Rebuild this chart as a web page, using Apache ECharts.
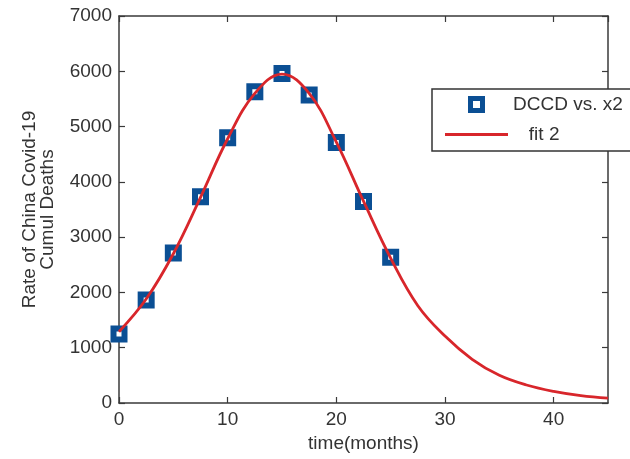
<!DOCTYPE html>
<html>
<head>
<meta charset="utf-8">
<script src="https://cdn.jsdelivr.net/npm/echarts@6/dist/echarts.min.js"></script>
<style>
html,body{margin:0;padding:0;background:#fff;}
#chart{width:630px;height:459px;}
</style>
</head>
<body>
<div id="chart"></div>
<script>
// Observed data points (time in months, rate)
var dataX = [0, 2.5, 5, 7.5, 10, 12.5, 15, 17.5, 20, 22.5, 25];
var dataY = [1250, 1865, 2715, 3730, 4800, 5630, 5960, 5570, 4710, 3645, 2635];

// Fitted curve
var fitX = [0, 2.5, 5, 7.5, 10, 12.5, 15, 17.5, 20, 22.5, 25, 27.5, 30, 32.5, 35, 37.5, 40, 42.5, 45];
var fitY = [1290, 1880, 2700, 3720, 4780, 5600, 5950, 5600, 4720, 3650, 2620, 1760, 1210, 790, 500, 325, 210, 133, 88];

var xTicks = [0, 10, 20, 30, 40];
var yTicks = [0, 1000, 2000, 3000, 4000, 5000, 6000, 7000];

var FONT = 'Liberation Sans';
var FS = 19;
var AX = '#3a3a3a';
var BLUE = '#0b4f94';
var RED = '#d8262b';

var chart = echarts.init(document.getElementById('chart'), null, {renderer: 'canvas'});

function pairs(xs, ys) { return xs.map(function (x, i) { return [x, ys[i]]; }); }

var axisCommon = {
  axisLine: {show: true, onZero: false, lineStyle: {color: AX, width: 1.5}},
  axisTick: {show: true, inside: true, length: 6, lineStyle: {color: AX, width: 1.2}},
  splitLine: {show: false}
};

chart.setOption({
  animation: false,
  backgroundColor: '#fff',
  grid: {left: 119, right: 22, top: 16, bottom: 56},
  legend: {
    orient: 'vertical',
    left: 432,
    top: 89,
    padding: [6, 220, 7, 13],
    itemWidth: 63,
    itemHeight: 12,
    itemGap: 11,
    symbolKeepAspect: true,
    borderColor: '#333',
    borderWidth: 1.5,
    backgroundColor: '#fff',
    textStyle: {fontFamily: FONT, fontSize: FS, color: '#333'},
    formatter: function (name) { return name === 'fit 2' ? '   fit 2' : name; },
    data: [
      {name: 'DCCD vs. x2', icon: 'path://M0,0h10v10h-10z', itemStyle: {color: '#ffffff', borderColor: BLUE, borderWidth: 5}},
      {name: 'fit 2', icon: 'path://M0,0h63v3.2h-63z', itemStyle: {color: RED, borderWidth: 0}}
    ]
  },
  xAxis: [
    Object.assign({
      type: 'value', min: 0, max: 45, interval: 10, position: 'bottom',
      name: 'time(months)', nameLocation: 'middle', nameGap: 29,
      nameTextStyle: {fontFamily: FONT, fontSize: FS, color: '#333'},
      axisLabel: {show: true, margin: 7, fontFamily: FONT, fontSize: FS, color: '#333', showMaxLabel: false,
        formatter: function (v) { return String(v); }}
    }, axisCommon),
    Object.assign({
      type: 'value', min: 0, max: 45, interval: 10, position: 'top',
      axisLabel: {show: false}
    }, axisCommon)
  ],
  yAxis: [
    Object.assign({
      type: 'value', min: 0, max: 7000, interval: 1000, position: 'left',
      name: 'Rate of China Covid-19\nCumul Deaths', nameLocation: 'middle', nameGap: 62,
      nameTextStyle: {fontFamily: FONT, fontSize: FS, color: '#333', lineHeight: 18, align: 'center'},
      axisLabel: {show: true, margin: 7, fontFamily: FONT, fontSize: FS, color: '#333',
        formatter: function (v) { return String(v); }}
    }, axisCommon),
    Object.assign({
      type: 'value', min: 0, max: 7000, interval: 1000, position: 'right',
      axisLabel: {show: false}
    }, axisCommon)
  ],
  series: [
    {
      name: 'DCCD vs. x2',
      type: 'scatter',
      xAxisIndex: 0, yAxisIndex: 0,
      symbol: 'rect',
      symbolSize: 11,
      itemStyle: {color: '#ffffff', borderColor: BLUE, borderWidth: 6, opacity: 1},
      data: pairs(dataX, dataY),
      z: 2
    },
    {
      name: 'fit 2',
      type: 'line',
      xAxisIndex: 0, yAxisIndex: 0,
      smooth: 0.4,
      showSymbol: false,
      symbol: 'none',
      lineStyle: {width: 2.8, color: RED},
      itemStyle: {color: RED},
      data: pairs(fitX, fitY),
      z: 3
    }
  ]
});
</script>
</body>
</html>
